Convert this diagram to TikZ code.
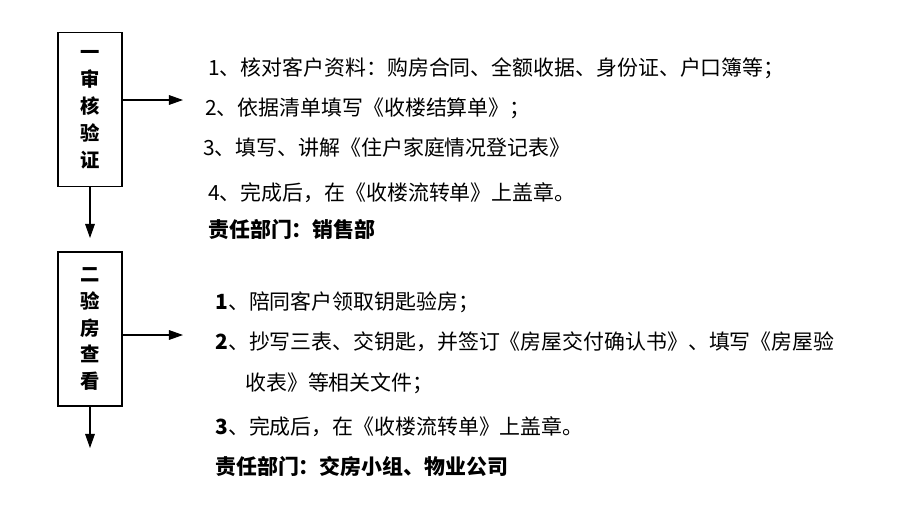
\documentclass[tikz,border=0pt]{standalone}
\usepackage{fontspec}
\setmainfont{Noto Sans CJK SC}
\usetikzlibrary{arrows.meta}

\tikzset{
  stage/.style={draw, line width=1.1pt, minimum width=1.28cm, minimum height=3.08cm,
    align=center, font=\fontsize{11}{15.3}\selectfont\bfseries},
  item/.style={anchor=west, inner sep=0pt, font=\fontsize{11.9}{13}\selectfont},
  flow/.style={line width=0.6pt, -{Triangle[length=8pt, width=5.5pt]}},
}

\begin{document}
\begin{tikzpicture}
  \useasboundingbox (0,0) rectangle (18,10.38);
  % stages
  \node[stage] (S1) at (1.8,8.19) {一\\审\\核\\验\\证};
  \node[stage] (S2) at (1.8,3.8) {二\\验\\房\\查\\看};
  \coordinate (R1) at (3.66,8.38);
  \coordinate (D1) at (1.8,5.62);
  \coordinate (R2) at (3.66,3.68);
  \coordinate (D2) at (1.8,1.42);
  \draw[flow] (S1.east |- R1) -- (R1);
  \draw[flow] (S1.south) -- (D1);
  \draw[flow] (S2.east |- R2) -- (R2);
  \draw[flow] (S2.south) -- (D2);
  % first stage
  \node[item] (A1) at (4.16,9.02) {1、核对客户资料：购房合同、全额收据、身份证、户口簿等；};
  \node[item] (A2) at (4.10,8.22) {2、依据清单填写《收楼结算单》；};
  \node[item] (A3) at (4.06,7.42) {3、填写、讲解《住户家庭情况登记表》};
  \node[item] (A4) at (4.16,6.52) {4、完成后，在《收楼流转单》上盖章。};
  \node[item, font=\fontsize{11.9}{13}\selectfont\bfseries] (A5) at (4.16,5.78) {责任部门：销售部};
  % second stage
  \node[item] (B1) at (4.30,4.34) {\textbf{1}、陪同客户领取钥匙验房；};
  \node[item] (B2) at (4.30,3.54) {\textbf{2}、抄写三表、交钥匙，并签订《房屋交付确认书》、填写《房屋验};
  \node[item] (B3) at (4.90,2.72) {收表》等相关文件；};
  \node[item] (B4) at (4.30,1.84) {\textbf{3}、完成后，在《收楼流转单》上盖章。};
  \node[item, font=\fontsize{11.9}{13}\selectfont\bfseries] (B5) at (4.30,1.04) {责任部门：交房小组、物业公司};
\end{tikzpicture}
\end{document}
